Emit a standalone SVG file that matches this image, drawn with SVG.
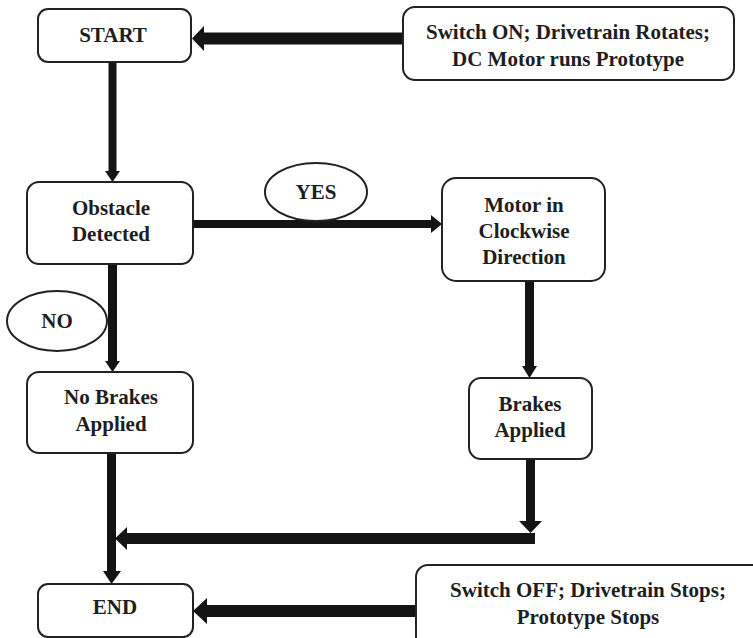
<svg xmlns="http://www.w3.org/2000/svg" width="753" height="638" viewBox="0 0 753 638">
<style>
.box{fill:#fff;stroke:#222;stroke-width:2}
.sh{stroke:#141414;fill:none}
.hd{fill:#141414}
</style>
<rect width="753" height="638" fill="#fff"/>
<g id="connectors">
<line class="sh" x1="403" y1="38.5" x2="200" y2="38.5" stroke-width="12"/>
<polygon class="hd" points="192,38.5 204,26 204,51"/>
<line class="sh" x1="112.5" y1="62" x2="112.5" y2="173" stroke-width="8"/>
<polygon class="hd" points="112.5,182 105,171 120,171"/>
<line class="sh" x1="193" y1="224" x2="433" y2="224" stroke-width="8"/>
<polygon class="hd" points="442,224 431,215 431,233"/>
<line class="sh" x1="112.5" y1="264" x2="112.5" y2="363" stroke-width="9"/>
<polygon class="hd" points="112.5,372 105,361 120,361"/>
<line class="sh" x1="529.5" y1="281" x2="529.5" y2="368" stroke-width="9"/>
<polygon class="hd" points="529.5,378 522,366 537,366"/>
<line class="sh" x1="530.5" y1="460" x2="530.5" y2="523" stroke-width="9"/>
<polygon class="hd" points="530.5,533 519,521 542,521"/>
<line class="sh" x1="535" y1="538.5" x2="125" y2="538.5" stroke-width="11"/>
<polygon class="hd" points="115,538.5 127,527 127,550"/>
<line class="sh" x1="111.5" y1="453" x2="111.5" y2="573" stroke-width="9"/>
<polygon class="hd" points="111.5,584 103,571 121,571"/>
<line class="sh" x1="416" y1="611" x2="205" y2="611" stroke-width="12"/>
<polygon class="hd" points="193,611 207,598 207,624"/>
</g>
<g id="start">
<rect class="box" x="38" y="9" width="153" height="53" rx="10"/>
<text x="113" y="42" font-family="Liberation Serif" font-weight="bold" font-size="21" fill="#1e1e1e" text-anchor="middle">START</text>
</g>
<g id="switch-on">
<rect class="box" x="403" y="7" width="331" height="73" rx="12"/>
<text x="568" y="39" font-family="Liberation Serif" font-weight="bold" font-size="21" fill="#1e1e1e" text-anchor="middle">Switch ON; Drivetrain Rotates;</text>
<text x="568" y="66" font-family="Liberation Serif" font-weight="bold" font-size="21" fill="#1e1e1e" text-anchor="middle">DC Motor runs Prototype</text>
</g>
<g id="obstacle">
<rect class="box" x="27" y="182" width="166" height="82" rx="12"/>
<text x="111" y="215" font-family="Liberation Serif" font-weight="bold" font-size="21" fill="#1e1e1e" text-anchor="middle">Obstacle</text>
<text x="111" y="241" font-family="Liberation Serif" font-weight="bold" font-size="21" fill="#1e1e1e" text-anchor="middle">Detected</text>
</g>
<g id="yes">
<ellipse class="box" cx="316" cy="192" rx="51" ry="29"/>
<text x="316" y="199" font-family="Liberation Serif" font-weight="bold" font-size="21" fill="#1e1e1e" text-anchor="middle">YES</text>
</g>
<g id="no">
<ellipse class="box" cx="57" cy="321" rx="50" ry="30"/>
<text x="57" y="328" font-family="Liberation Serif" font-weight="bold" font-size="21" fill="#1e1e1e" text-anchor="middle">NO</text>
</g>
<g id="motor">
<rect class="box" x="442" y="178" width="163" height="103" rx="14"/>
<text x="524" y="212" font-family="Liberation Serif" font-weight="bold" font-size="21" fill="#1e1e1e" text-anchor="middle">Motor in</text>
<text x="524" y="238" font-family="Liberation Serif" font-weight="bold" font-size="21" fill="#1e1e1e" text-anchor="middle">Clockwise</text>
<text x="524" y="264" font-family="Liberation Serif" font-weight="bold" font-size="21" fill="#1e1e1e" text-anchor="middle">Direction</text>
</g>
<g id="no-brakes">
<rect class="box" x="27" y="372" width="166" height="81" rx="12"/>
<text x="111" y="404" font-family="Liberation Serif" font-weight="bold" font-size="21" fill="#1e1e1e" text-anchor="middle">No Brakes</text>
<text x="111" y="431" font-family="Liberation Serif" font-weight="bold" font-size="21" fill="#1e1e1e" text-anchor="middle">Applied</text>
</g>
<g id="brakes">
<rect class="box" x="469" y="378" width="123" height="81" rx="12"/>
<text x="530" y="411" font-family="Liberation Serif" font-weight="bold" font-size="21" fill="#1e1e1e" text-anchor="middle">Brakes</text>
<text x="530" y="437" font-family="Liberation Serif" font-weight="bold" font-size="21" fill="#1e1e1e" text-anchor="middle">Applied</text>
</g>
<g id="end">
<rect class="box" x="38" y="584" width="155" height="53" rx="10"/>
<text x="115" y="614" font-family="Liberation Serif" font-weight="bold" font-size="21" fill="#1e1e1e" text-anchor="middle">END</text>
</g>
<g id="switch-off">
<rect class="box" x="416" y="565" width="360" height="90" rx="12"/>
<text x="588" y="597" font-family="Liberation Serif" font-weight="bold" font-size="21" fill="#1e1e1e" text-anchor="middle">Switch OFF; Drivetrain Stops;</text>
<text x="588" y="624" font-family="Liberation Serif" font-weight="bold" font-size="21" fill="#1e1e1e" text-anchor="middle">Prototype Stops</text>
</g>
</svg>
